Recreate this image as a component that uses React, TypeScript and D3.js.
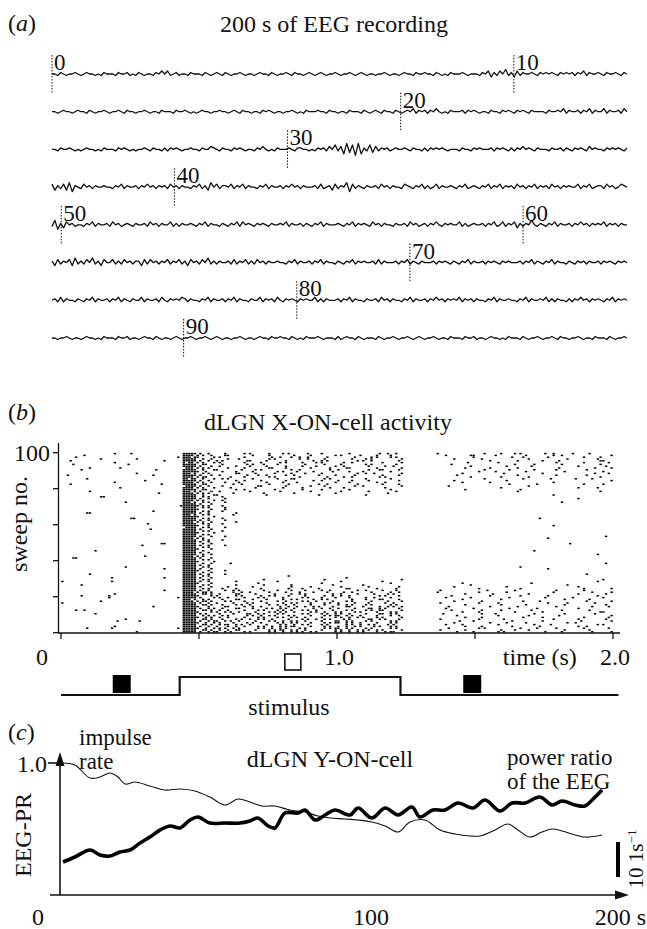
import React from "react";
import * as d3 from "d3";

// ---------- panel (a): EEG, one digit = one sample, 5 = baseline ----------
const eegLineSeconds = 12.45;
const eegMarkers = [0, 10, 20, 30, 40, 50, 60, 70, 80, 90];
const eegLines = [
  "5546545565 4565545465 5546556454 6545546575 7456455465 5546545654 6545565455 4565546545 5654655456 5456545565 4556545654 5545565455 4565546556 5546545465 5565455546 5736475846 3746556546 5656546565 6465746556 5465565465",
  "5545655456 5546545565 4556546554 5565455465 5546556545 4565545565 5456546554 5546565455 4556545465 5565546554 5546555465 4565465546 5456574656 4657545465 5564656545 5465546565 4656546555 5465565746 5564657465 5746556475",
  "5546556545 4565545465 5546565454 5565465546 4656545565 5465576546 5546565455 4657545465 5565466554 5465647584 7293819264 8374656456 5565465546 4656565455 5465546565 5564656546 4657565465 5546556465 4656547565 5465656546",
  "7364738265 4756465565 5465746556 4657564656 4756465546 5746385746 6574657465 5465746556 4657564655 5647456374 6582746546 5564756465 5476546574 6457465565 4657456546 5746574656 4756465746 5647564656 5574657456 6475645765",
  "4826375645 5465746556 4756456546 5564756465 5746465565 4657465546 5465747565 4656546556 5746556465 4657465556 5465746565 4756465546 5564756456 4657546565 5746456556 4657457465 7364658546 5465746556 4657564656 5746564655",
  "6374657384 6475846375 5746475646 6374756465 7465746375 6475846465 5647465746 4756465565 5465746556 4657465546 5465746565 5647465556 4657465465 5564656546 5465746556 4656546565 5564657465 4657465546 5465646556 4656546565",
  "5647465546 5465746556 4657465465 5746556475 4656576465 5465746556 4657465546 5574656475 4656546565 5746465556 4657465546 5564756465 5465746556 4657564656 5746564655 4657465565 5465746556 5746465546 4657564656 5465746565",
  "5545565455 4565545465 5546556455 4565546545 5456545565 4556545654 5545565455 4565546556 5546545465 5565455546 4565546545 5546545565 4556545654 5565455465 5546556455 4565545465 5546545565 4556546554 5565455465 5546545565",
];

// ---------- panel (b): raster, sweep 100 first ----------
// groups: spontaneous | onset | sustained | late ; hex char = 40 ms, bit = 10 ms bin
const rasterGroupStart = [0, 11, 12, 34];
const rasterRows = [
  "0000104 f a4102810a0420080124 8000410a0120410",
  "00800 f 5218041008201408210 100c040080240001",
  "04000000002 e c140200912408020a14 0004001100800410",
  "0002001 f 9208801402410042801 020080004001002",
  "1000000004 f a4a0182040128014802 0000100402080018",
  "00001 b 51402081410a0240081 0010020000100402",
  "08000080 f 9820144200810402804 040000081004001",
  "0 f a241082041081201048 0008004020001004",
  "002004 7 5408201840204180201 0020100400080041",
  "01000000200 f 9180428012004801182 00004020101002",
  "0 f c821040284102084010 0001040080020008",
  "0000001 e 9401820410820012401 0040008002000042",
  "20000000400 f a240112048041020082 010000040010020",
  "0 f 5804201402008240140 000801004000001",
  "004 d 9128040218014002010 000040010040208",
  "00000002 f a401208040120841002 0200004000000001",
  "00001 f 5210802084001080240 00401000002",
  "10000000080 f 9802401020048010082 0000002008000408",
  "0 7 a420018040210024001 0800000040",
  "000004 f 5104020081004200040 000001000000102",
  "0 f 9801200401020080010 0020000200",
  "002 e a240080100200401004 000000040000001",
  "000000001 f 5402004008001000020 0",
  "0 f 9180002000040002 00000000002",
  "0003 f 942 0",
  "0 f a41 0000000000001",
  "0 f 5120 0",
  "000001 e 941 000000000004",
  "0 f a2 0",
  "00000000001 f d42 0",
  "0 f 9410 0",
  "0 f c21 0",
  "000000004 f 942 0",
  "006 f a401 0",
  "0 e 9402 0",
  "0 f c1 0",
  "0000006 f 942 0000000004",
  "0 f a41 0",
  "0 f 5201 0",
  "00000001 f 942 0",
  "0 f c4 00000000002",
  "0 7 9410 0",
  "000000008 f a2 0",
  "0 f 942 0",
  "0 f c1 0",
  "0 f 94 0",
  "0 f a21 0000000000000004",
  "0 f 5 00000000008",
  "0 f 942 0",
  "0 f a4 0",
  "000000000c f 92 0000000000008",
  "00000004 f a41 0",
  "0 f 94 0",
  "0 f c2 0",
  "0008 f 9 000000001",
  "0 f a4 0",
  "0 f 92 000000000000002",
  "00000002 f 5 0",
  "0c f a2 0",
  "0 f 94 0",
  "0 f c1 0",
  "0 f 9204 0000000000000004",
  "0 f a4 0",
  "000001 f 94 00000002",
  "0000000004 f a2 00000000008",
  "0 f c41 0",
  "0 f 92 0",
  "002 f a41 00000000000002",
  "0 f 9400000020 0",
  "00002000040 f a20000000000010 0",
  "0 f 9400004000010000001 0000000000000008",
  "80002 f a40100020000040008 000000000000002",
  "0 f c20001000002000001 004000002",
  "01 f 9401004010002004 000800000001",
  "0 f a208040010200401002 020000400000100",
  "0 f 9421008021040180204 0001000200000401",
  "0000000004 f a412804210824012084 400020080010040",
  "0 f 5a02481042108240812 8001004000200081",
  "00001 f 9a41820412802410428 0020080040001004",
  "01004 f c281409420812480142 040010020080002",
  "00004000002 f a148214081421082410 1008002001004008",
  "0 e 9421842094128042182 004001000002010",
  "0002 f 5a14208241482140821 0200800104000201",
  "8 f a482142094214821048 400102000081004",
  "0 f 9a21481248210942814 0020010080020004",
  "000000004 f c418248124942184129 0800100400100082",
  "0 f a521842948124821942 100400200800100",
  "04800 f 9a48214291482142981 0400810020040100",
  "0 f c294821548291428214 0041000802000018",
  "0008 f a842194281429482194 200084001002004",
  "0 f 9528149428215948212 0100020040080001",
  "0 f ca48214294821494281 0020800102000402",
  "000001 f 9a21494821494281942 4001008000201004",
  "00000808 f a594821494821942814 0084001002000801",
  "0 f c942148294215948214 020010408001200",
  "0 f 9a59482149428149428 1040020010400028",
  "00001 f a489214958214928514 002080100400120",
  "00402000002 f c952814942815942814 0801400208100402",
  "0 f 9a49821594821495281 402001084002010",
  "0000001 f a594281495281494258 0104028001040081",
];
const sweepTicks = [0, 20, 40, 60, 80, 100];
const timeTicks = [0, 0.5, 1.0, 1.5, 2.0];
const timeLabelValues = [0, 1.0, 2.0];
const timeLabelText = ["0", "1.0", "2.0"];
const stimTimes = [0, 0.43, 0.43, 1.23, 1.23, 2.02];
const stimLevels = [0, 0, 1, 1, 0, 0];
const windowTimes = [0.22, 0.84, 1.49];
const windowFilled = [true, false, true];

// ---------- panel (c) ----------
const rateT = [1, 5.4, 10.9, 14.5, 18.1, 21, 23.6, 27.2, 32.6, 38, 43.5, 48.9, 54.3, 59.8, 64.5, 68.8, 73.2, 77.9, 83.3, 88.8, 93.5, 97.8, 103.3, 108, 113, 117.8, 122.5, 126.8, 132.2, 137.7, 143.1, 148.6, 152.2, 157.6, 162.3, 165.9, 170.3, 174.6, 178.3, 181.9, 185.5, 190.2, 196.4];
const rateV = [1.0, 0.985, 0.886, 0.894, 0.924, 0.894, 0.841, 0.856, 0.826, 0.795, 0.803, 0.788, 0.742, 0.682, 0.727, 0.705, 0.674, 0.674, 0.644, 0.629, 0.598, 0.583, 0.576, 0.568, 0.553, 0.523, 0.477, 0.553, 0.568, 0.492, 0.462, 0.447, 0.447, 0.492, 0.538, 0.492, 0.439, 0.477, 0.5, 0.485, 0.462, 0.439, 0.455];
const eegPrT = [1.1, 5.4, 10.9, 14.5, 18.1, 21.7, 25.4, 29, 32.6, 36.2, 39.9, 43.5, 47.1, 50, 54.3, 59.8, 65.2, 68.8, 71.7, 75.4, 77.9, 81.5, 86.2, 88.8, 92.4, 96, 99.6, 105.1, 108, 113, 117.8, 122.5, 127.5, 130.4, 135.1, 139.5, 144.2, 149.6, 154, 159.4, 163.8, 168.5, 173.9, 178.3, 181.9, 186.6, 190.2, 192.8, 196.4];
const eegPrV = [0.25, 0.288, 0.341, 0.303, 0.295, 0.326, 0.341, 0.394, 0.439, 0.492, 0.523, 0.508, 0.568, 0.591, 0.545, 0.545, 0.545, 0.561, 0.583, 0.523, 0.508, 0.621, 0.621, 0.644, 0.568, 0.606, 0.644, 0.606, 0.659, 0.583, 0.659, 0.606, 0.667, 0.591, 0.644, 0.644, 0.697, 0.659, 0.72, 0.636, 0.697, 0.697, 0.742, 0.682, 0.712, 0.682, 0.674, 0.72, 0.795];
const cTickLabels = ["0", "100", "200 s"];
const cTickValues = [0, 100, 200];

const FONT = '"Liberation Serif", "Times New Roman", Times, serif';

export default function App() {
  // panel a scales
  const xEeg = d3.scaleLinear().domain([0, eegLineSeconds]).range([52, 627]);
  const yLine = d3.scaleLinear().domain([0, 7]).range([74, 338]);
  const yAmp = d3.scaleLinear().domain([0, 9]).range([7.5, -6]);

  const eegPaths = eegLines.map((s, i) => {
    const vals = s.replace(/\s/g, "").split("").map(Number);
    const base = yLine(i);
    return d3
      .line<number>()
      .x((_, j) => xEeg((j / (vals.length - 1)) * eegLineSeconds))
      .y((v) => base + yAmp(v))(vals);
  });

  // panel b scales
  const xR = d3.scaleLinear().domain([0, 2]).range([61, 613]);
  const yR = d3.scaleLinear().domain([0, 100]).range([632.7, 452.7]);
  const spikes: { sweep: number; bin: number }[] = [];
  rasterRows.forEach((row, r) => {
    const sweep = 100 - r;
    row.split(" ").forEach((grp, g) => {
      grp.split("").forEach((ch, k) => {
        const bits = parseInt(ch, 16);
        for (let b = 0; b < 4; b++) {
          if (bits & (8 >> b)) spikes.push({ sweep, bin: (rasterGroupStart[g] + k) * 4 + b });
        }
      });
    });
  });
  const yStim = d3.scaleLinear().domain([0, 1]).range([695, 677]);
  const stimPath = d3
    .line<number>()
    .x((t) => xR(t))
    .y((_, i) => yStim(stimLevels[i]))(stimTimes);

  // panel c scales
  const xC = d3.scaleLinear().domain([0, 200]).range([60, 612]);
  const yC = d3.scaleLinear().domain([0, 1]).range([895, 763]);
  const cLabelX = d3.scaleLinear().domain([0, 100, 200]).range([38, 371, 646]);
  const curve = d3
    .line<[number, number]>()
    .x((d) => xC(d[0]))
    .y((d) => yC(d[1]))
    .curve(d3.curveCatmullRom);
  const ratePath = curve(rateT.map((t, i) => [t, rateV[i]]));
  const prPath = curve(eegPrT.map((t, i) => [t, eegPrV[i]]));

  return (
    <svg
      width={647}
      height={929}
      style={{ position: "absolute", left: 0, top: 0, background: "#fff" }}
      fontFamily={FONT}
      fontSize={24}
      fill="#111"
    >
      {/* ---------- (a) ---------- */}
      <text x={8} y={31}>
        (<tspan fontStyle="italic">a</tspan>)
      </text>
      <text x={334} y={32} textAnchor="middle">200 s of EEG recording</text>
      <g fill="none" stroke="#111" strokeWidth={1.3} strokeLinejoin="round">
        {eegPaths.map((d, i) => (
          <path key={i} d={d || ""} />
        ))}
      </g>
      {eegMarkers.map((m) => {
        const li = Math.floor(m / eegLineSeconds);
        const x = xEeg(m - li * eegLineSeconds);
        const y = yLine(li);
        return (
          <g key={m}>
            <line x1={x} x2={x} y1={y - 19} y2={y + 19} stroke="#111" strokeWidth={1} strokeDasharray="1.5,1.5" />
            <text x={x + 2} y={y - 4} fontSize={23}>{m}</text>
          </g>
        );
      })}

      {/* ---------- (b) ---------- */}
      <text x={8} y={420}>
        (<tspan fontStyle="italic">b</tspan>)
      </text>
      <text x={328} y={430} textAnchor="middle">dLGN X-ON-cell activity</text>
      <g fill="#000">
        {spikes.map((s, i) => (
          <rect key={i} x={xR(s.bin * 0.01 + 0.005) - 1.2} y={yR(s.sweep - 0.5) - 0.75} width={2.4} height={1.5} />
        ))}
      </g>
      <g stroke="#111" strokeWidth={1.3}>
        <line x1={58.5} x2={58.5} y1={443} y2={633} />
        {sweepTicks.map((t) => (
          <line key={t} x1={53} x2={58.5} y1={yR(t)} y2={yR(t)} />
        ))}
        <line x1={58} x2={620} y1={633} y2={633} />
        {timeTicks.map((t) => (
          <line key={t} x1={xR(t)} x2={xR(t)} y1={633} y2={639} />
        ))}
      </g>
      <text x={50} y={461} textAnchor="end">100</text>
      <text transform="translate(27,524) rotate(-90)" textAnchor="middle">sweep no.</text>
      {timeLabelValues.map((v, i) => (
        <text key={v} x={xR(v) + (v === 0 ? -19 : 2)} y={665} textAnchor="middle">
          {timeLabelText[i]}
        </text>
      ))}
      <text x={xR(1.735)} y={665} textAnchor="middle">time (s)</text>
      <path d={stimPath || ""} fill="none" stroke="#111" strokeWidth={2.2} />
      {windowTimes.map((t, i) =>
        windowFilled[i] ? (
          <rect key={i} x={xR(t) - 9} y={675} width={18} height={18} fill="#000" />
        ) : (
          <rect key={i} x={xR(t) - 8} y={654} width={16} height={16} fill="#fff" stroke="#111" strokeWidth={1.6} />
        )
      )}
      <text x={289} y={715} textAnchor="middle">stimulus</text>

      {/* ---------- (c) ---------- */}
      <text x={8} y={740}>
        (<tspan fontStyle="italic">c</tspan>)
      </text>
      <text x={79} y={745} fontSize={23}>impulse</text>
      <text x={79} y={769} fontSize={23}>rate</text>
      <text x={47} y={772} textAnchor="end">1.0</text>
      <text x={330} y={767} textAnchor="middle">dLGN Y-ON-cell</text>
      <text x={507} y={765} fontSize={23}>power ratio</text>
      <text x={507} y={789} fontSize={23}>of the EEG</text>
      <text transform="translate(31,835) rotate(-90)" textAnchor="middle">EEG-PR</text>
      <g stroke="#111" strokeWidth={1.6}>
        <line x1={60} x2={60} y1={895} y2={760} />
        <line x1={48} x2={60} y1={yC(1)} y2={yC(1)} />
        <line x1={50} x2={618} y1={895} y2={895} />
      </g>
      <path d="M60,752 L55.5,766 L64.5,766 Z" fill="#111" />
      <path d="M629,895 L615,890.5 L615,899.5 Z" fill="#111" />
      <path d={ratePath || ""} fill="none" stroke="#111" strokeWidth={1.1} />
      <path d={prPath || ""} fill="none" stroke="#000" strokeWidth={3.6} strokeLinejoin="round" />
      <rect x={616} y={842} width={4} height={35} fill="#000" />
      <text transform="translate(643,859) rotate(-90)" textAnchor="middle" fontSize={21}>
        10 1s<tspan dy={-7} fontSize={13}>−1</tspan>
      </text>
      {cTickValues.map((v, i) => (
        <text key={v} x={cLabelX(v)} y={925} textAnchor={v === 200 ? "end" : "middle"}>
          {cTickLabels[i]}
        </text>
      ))}
    </svg>
  );
}
